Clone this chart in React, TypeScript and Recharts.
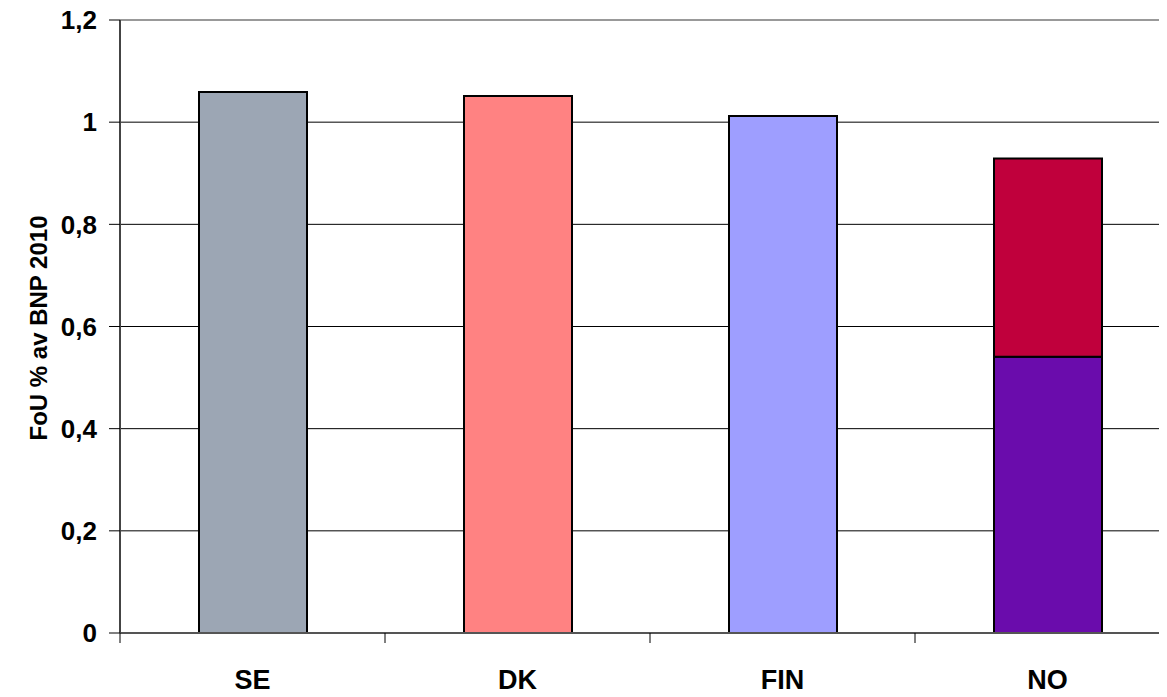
import React from 'react';
import { BarChart, Bar, XAxis, YAxis, CartesianGrid, Cell, ReferenceLine, Label } from 'recharts';

const categories = ['SE', 'DK', 'FIN', 'NO'];
const lowerValues = [1.059, 1.051, 1.012, 0.541];
const upperValues: (number | null)[] = [null, null, null, 0.388];
const yTicks = [0, 0.2, 0.4, 0.6, 0.8, 1, 1.2];
const gridValues = [0.2, 0.4, 0.6, 0.8, 1];
const yLabel = 'FoU % av BNP 2010';

const lowerFills = ['#9ca6b4', '#ff8282', '#9e9eff', '#6a0cac'];
const upperFills = ['#c0003c', '#c0003c', '#c0003c', '#c0003c'];

const data = categories.map((c, i) => ({ name: c, lower: lowerValues[i], upper: upperValues[i] }));

const FONT = '"Liberation Sans", Arial, sans-serif';

const XTick = (props: any) => {
  const { x, y, payload } = props;
  const off = payload && payload.offset ? payload.offset : 132.5;
  return (
    <g>
      <line x1={x - off} y1={y} x2={x - off} y2={y + 10} stroke="#000" strokeWidth={1} />
      <text x={x} y={y + 56} textAnchor="middle" fontFamily={FONT} fontWeight="bold" fontSize={27} fill="#000">
        {payload.value}
      </text>
    </g>
  );
};

const fmt = (v: number) => String(Math.round(v * 10) / 10).replace('.', ',');

export default function App() {
  return (
    <div style={{ margin: -8, width: 1167, height: 697, overflow: 'hidden', background: '#fff' }}>
      <BarChart width={1200} height={697} data={data} margin={{ top: 20, right: 20, bottom: 0, left: 0 }}>
        <CartesianGrid horizontal vertical={false} horizontalValues={gridValues} stroke="#000" strokeWidth={1} />
        <ReferenceLine y={1.2} stroke="#999" strokeWidth={2} />
        <XAxis
          dataKey="name"
          height={64}
          tickSize={0}
          tickMargin={0}
          axisLine={{ stroke: '#555', strokeWidth: 2 }}
          tickLine={false}
          tick={<XTick />}
          interval={0}
        />
        <YAxis
          width={120}
          domain={[0, 1.2]}
          ticks={yTicks}
          tickFormatter={fmt}
          tickSize={11}
          tickMargin={12}
          axisLine={{ stroke: '#444', strokeWidth: 2 }}
          tickLine={{ stroke: '#000' }}
          tick={{ fontFamily: FONT, fontWeight: 'bold', fontSize: 26, fill: '#000' }}
          allowDataOverflow
        >
          <Label
            content={() => (
              <text
                x={38}
                y={328}
                transform="rotate(-90, 38, 328)"
                textAnchor="middle"
                dominantBaseline="central"
                fontFamily={FONT}
                fontWeight="bold"
                fontSize={24}
                fill="#000"
              >
                {yLabel}
              </text>
            )}
          />
        </YAxis>
        <Bar dataKey="lower" stackId="s" barSize={108} stroke="#000" strokeWidth={2} isAnimationActive={false}>
          {data.map((d, i) => (
            <Cell key={d.name} fill={lowerFills[i]} />
          ))}
        </Bar>
        <Bar dataKey="upper" stackId="s" barSize={108} stroke="#000" strokeWidth={2} isAnimationActive={false}>
          {data.map((d, i) => (
            <Cell key={d.name} fill={upperFills[i]} />
          ))}
        </Bar>
      </BarChart>
    </div>
  );
}
